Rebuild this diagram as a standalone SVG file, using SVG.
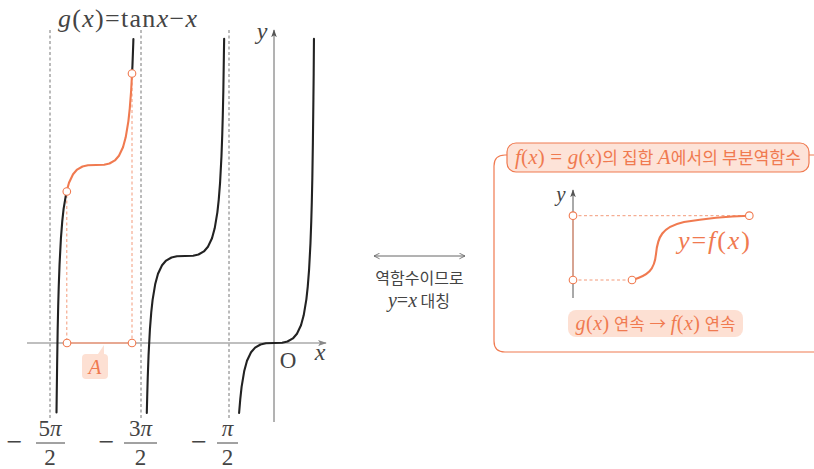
<svg xmlns="http://www.w3.org/2000/svg" width="814" height="469" viewBox="0 0 814 469">
<defs>
<style>
text{font-family:"Noto Sans CJK KR","Noto Sans",sans-serif;}
.m{font-family:"Liberation Serif","DejaVu Serif",serif;}
.i{font-family:"Liberation Serif","DejaVu Serif",serif;font-style:italic;}
.asym{stroke:#777;stroke-width:1;stroke-dasharray:3,2.5;fill:none;}
.blk{stroke:#222;stroke-width:2.1;fill:none;stroke-linejoin:round;stroke-linecap:round;}
.org{stroke:#f07a50;stroke-width:2.1;fill:none;stroke-linejoin:round;stroke-linecap:round;}
.odash{stroke:#f39a7a;stroke-width:1;stroke-dasharray:3,2.5;fill:none;}
.pt{fill:#fff;stroke:#f07a50;stroke-width:1.1;}
.otxt{fill:#f07a50;}
.lfill{fill:#fde0d3;}
</style>
<marker id="ah" viewBox="0 0 10 10" refX="9" refY="5" markerWidth="8" markerHeight="8" orient="auto" markerUnits="userSpaceOnUse">
<path d="M0,1.5 L10,5 L0,8.5 L2.5,5 Z" fill="#555"/>
</marker>
<marker id="ahx" viewBox="0 0 10 10" refX="9" refY="5" markerWidth="9" markerHeight="9" orient="auto" markerUnits="userSpaceOnUse">
<path d="M0,1.5 L10,5 L0,8.5 L2.5,5 Z" fill="#888"/>
</marker>
<marker id="oa" viewBox="0 0 10 10" refX="9" refY="5" markerWidth="7" markerHeight="7" orient="auto-start-reverse" markerUnits="userSpaceOnUse">
<path d="M1,1 L9,5 L1,9" fill="none" stroke="#666" stroke-width="1.2"/>
</marker>
</defs>
<rect width="814" height="469" fill="#fff"/>

<g id="title">
<text x="58" y="27" font-size="26" fill="#444" textLength="139" lengthAdjust="spacing"><tspan class="i">g</tspan><tspan class="m">(</tspan><tspan class="i">x</tspan><tspan class="m">)=tan</tspan><tspan class="i">x</tspan><tspan class="m">−</tspan><tspan class="i">x</tspan></text>
</g>

<g id="asymptotes">
<line class="asym" x1="50" y1="30" x2="50" y2="418"/>
<line class="asym" x1="141" y1="30" x2="141" y2="418"/>
<line class="asym" x1="229" y1="30" x2="229" y2="418"/>
</g>

<g id="axes">
<line x1="27" y1="343" x2="326" y2="343" stroke="#aaa" stroke-width="1.5" marker-end="url(#ahx)"/>
<line x1="274" y1="422" x2="274" y2="30" stroke="#666" stroke-width="1" marker-end="url(#ah)"/>
<text class="i" x="262" y="39" font-size="24" fill="#444" text-anchor="middle">y</text>
<text class="i" x="320" y="360" font-size="24" fill="#444" text-anchor="middle">x</text>
<text class="m" x="288" y="368" font-size="23" fill="#444" text-anchor="middle">O</text>
</g>

<g id="set-A">
<line class="odash" x1="66.8" y1="195" x2="66.8" y2="343"/>
<line class="odash" x1="132" y1="77" x2="132" y2="343"/>
<line x1="67" y1="343" x2="132" y2="343" stroke="#f5a083" stroke-width="1.6"/>
<circle class="pt" cx="67" cy="343" r="3.8"/>
<circle class="pt" cx="132" cy="343" r="3.8"/>
<path class="lfill" d="M88,354 H98 L104,345 L104,354 Q108,354 108,358 V375 Q108,379 104,379 H86 Q82,379 82,375 V358 Q82,354 86,354 Z"/>
<text class="i otxt" x="95" y="374" font-size="21" text-anchor="middle">A</text>
</g>

<g id="curves">
<path class="blk" d="M239.1,413 L240.25,399.3 L241.6,386.9 L244.3,370.7 L247,360.8 L251.05,352.2 L255.1,347.6 L260.5,344.5 L265.9,343.3 L274,343 L282.1,342.7 L287.5,341.5 L292.9,338.45 L296.95,333.8 L301,325.2 L303.7,315.3 L306.4,299.1 L307.75,286.7 L309.1,269.3 L310.45,243.6 L311.26,221.5 L311.8,202.3 L312.34,177.8 L312.88,142.8 L313.42,97.9 L313.69,73.7 L313.96,38.9"/>
<path class="blk" d="M146.8,413 L147.2,396.7 L147.74,377.5 L148.55,355.4 L149.9,329.7 L151.25,312.3 L152.6,299.9 L155.3,283.7 L158,273.8 L162.05,265.2 L166.1,260.55 L171.5,257.5 L176.9,256.3 L185,256 L193.1,255.7 L198.5,254.5 L203.9,251.45 L207.95,246.8 L212,238.2 L214.7,228.3 L217.4,212.1 L218.75,199.7 L220.1,182.3 L221.45,156.6 L222.26,134.5 L222.8,115.3 L223.34,90.8 L223.88,55.8 L224.15,38.7"/>
<path class="blk" d="M56.5,412.5 L57.12,365.2 L57.66,330.2 L58.2,305.7 L58.74,286.5 L59.55,264.4 L60.9,238.7 L62.25,221.3 L63.6,208.9 L66.3,192.7 L66.52,191.7"/>
<path class="org" d="M66.52,191.7 L69,182.8 L73.05,174.2 L77.1,169.55 L82.5,166.5 L87.9,165.3 L96,165 L104.1,164.7 L109.5,163.5 L114.9,160.45 L118.95,155.8 L123,147.2 L125.7,137.3 L128.4,121.1 L129.75,108.7 L131.1,91.3 L132.1,72.8"/>
<path class="blk" d="M132.1,72.8 L132.45,65.6 L133.26,43.5 L133.4,39"/>
<circle class="pt" cx="66.8" cy="191.5" r="3.8"/>
<circle class="pt" cx="132" cy="73.5" r="3.8"/>
</g>

<g id="x-labels" fill="#444">
<text class="m" x="14.5" y="450.5" font-size="28" text-anchor="middle">−</text>
<text x="50" y="436" font-size="23" text-anchor="middle"><tspan class="m">5</tspan><tspan class="i">π</tspan></text>
<line x1="36" y1="443" x2="65" y2="443" stroke="#444" stroke-width="1"/>
<text class="m" x="50" y="465" font-size="23" text-anchor="middle">2</text>

<text class="m" x="106.5" y="450.5" font-size="28" text-anchor="middle">−</text>
<text x="140.5" y="436" font-size="23" text-anchor="middle"><tspan class="m">3</tspan><tspan class="i">π</tspan></text>
<line x1="124" y1="443" x2="157" y2="443" stroke="#444" stroke-width="1"/>
<text class="m" x="140.5" y="465" font-size="23" text-anchor="middle">2</text>

<text class="m" x="199" y="450.5" font-size="28" text-anchor="middle">−</text>
<text class="i" x="227.5" y="436" font-size="23" text-anchor="middle">π</text>
<line x1="217" y1="443" x2="238" y2="443" stroke="#444" stroke-width="1"/>
<text class="m" x="227.5" y="465" font-size="23" text-anchor="middle">2</text>
</g>

<g id="connector">
<line x1="374" y1="256" x2="465" y2="256" stroke="#666" stroke-width="1" marker-start="url(#oa)" marker-end="url(#oa)"/>
<text x="419.5" y="284" font-size="16" fill="#444" text-anchor="middle">역함수이므로</text>
<text x="419" y="307" font-size="16" fill="#444" text-anchor="middle"><tspan class="i" font-size="20">y</tspan><tspan class="m" font-size="20">=</tspan><tspan class="i" font-size="20">x</tspan> 대칭</text>
</g>

<g id="inverse-box">
<path d="M814,352 H505 Q494,352 494,341 V166 Q494,155 505,155 H814" fill="none" stroke="#f07a50" stroke-width="1.2"/>
<rect x="507" y="143" width="302" height="29" rx="9" fill="#fde3d8" stroke="#f07a50" stroke-width="1.2"/>
<text class="otxt" x="658" y="164" font-size="17" text-anchor="middle" textLength="286" lengthAdjust="spacing"><tspan class="i" font-size="21">f</tspan><tspan class="m" font-size="21">(</tspan><tspan class="i" font-size="21">x</tspan><tspan class="m" font-size="21">) = </tspan><tspan class="i" font-size="21">g</tspan><tspan class="m" font-size="21">(</tspan><tspan class="i" font-size="21">x</tspan><tspan class="m" font-size="21">)</tspan>의 집합 <tspan class="i" font-size="21">A</tspan>에서의 부분역함수</text>

<g id="inner-graph">
<line x1="573" y1="298" x2="573" y2="190" stroke="#555" stroke-width="1" marker-end="url(#ah)"/>
<line x1="573" y1="216" x2="573" y2="280" stroke="#f5a083" stroke-width="1.2"/>
<text class="i" x="561" y="201" font-size="21" fill="#444" text-anchor="middle">y</text>
<line class="odash" x1="573" y1="215.7" x2="749" y2="215.7"/>
<line class="odash" x1="573" y1="280" x2="632" y2="280"/>
<path class="org" d="M632.5,280 C648,275.5 654.5,270 656,254 C657.5,237 662,227 684,222 C705,218.5 730,216.3 749,215.7"/>
<circle class="pt" cx="573" cy="215.7" r="3.8"/>
<circle class="pt" cx="573" cy="280" r="3.8"/>
<circle class="pt" cx="749.3" cy="215.7" r="3.8"/>
<circle class="pt" cx="632" cy="280" r="3.8"/>
<text class="otxt" x="714" y="249" font-size="26" text-anchor="middle" textLength="72" lengthAdjust="spacing"><tspan class="i">y</tspan><tspan class="m">=</tspan><tspan class="i">f</tspan><tspan class="m">(</tspan><tspan class="i">x</tspan><tspan class="m">)</tspan></text>
</g>

<rect x="568" y="310" width="175" height="27" rx="8" fill="#fde0d3"/>
<text class="otxt" x="655.5" y="330" font-size="16.5" text-anchor="middle" textLength="160" lengthAdjust="spacing"><tspan class="i" font-size="20">g</tspan><tspan class="m" font-size="20">(</tspan><tspan class="i" font-size="20">x</tspan><tspan class="m" font-size="20">)</tspan> 연속 → <tspan class="i" font-size="20">f</tspan><tspan class="m" font-size="20">(</tspan><tspan class="i" font-size="20">x</tspan><tspan class="m" font-size="20">)</tspan> 연속</text>
</g>
</svg>
